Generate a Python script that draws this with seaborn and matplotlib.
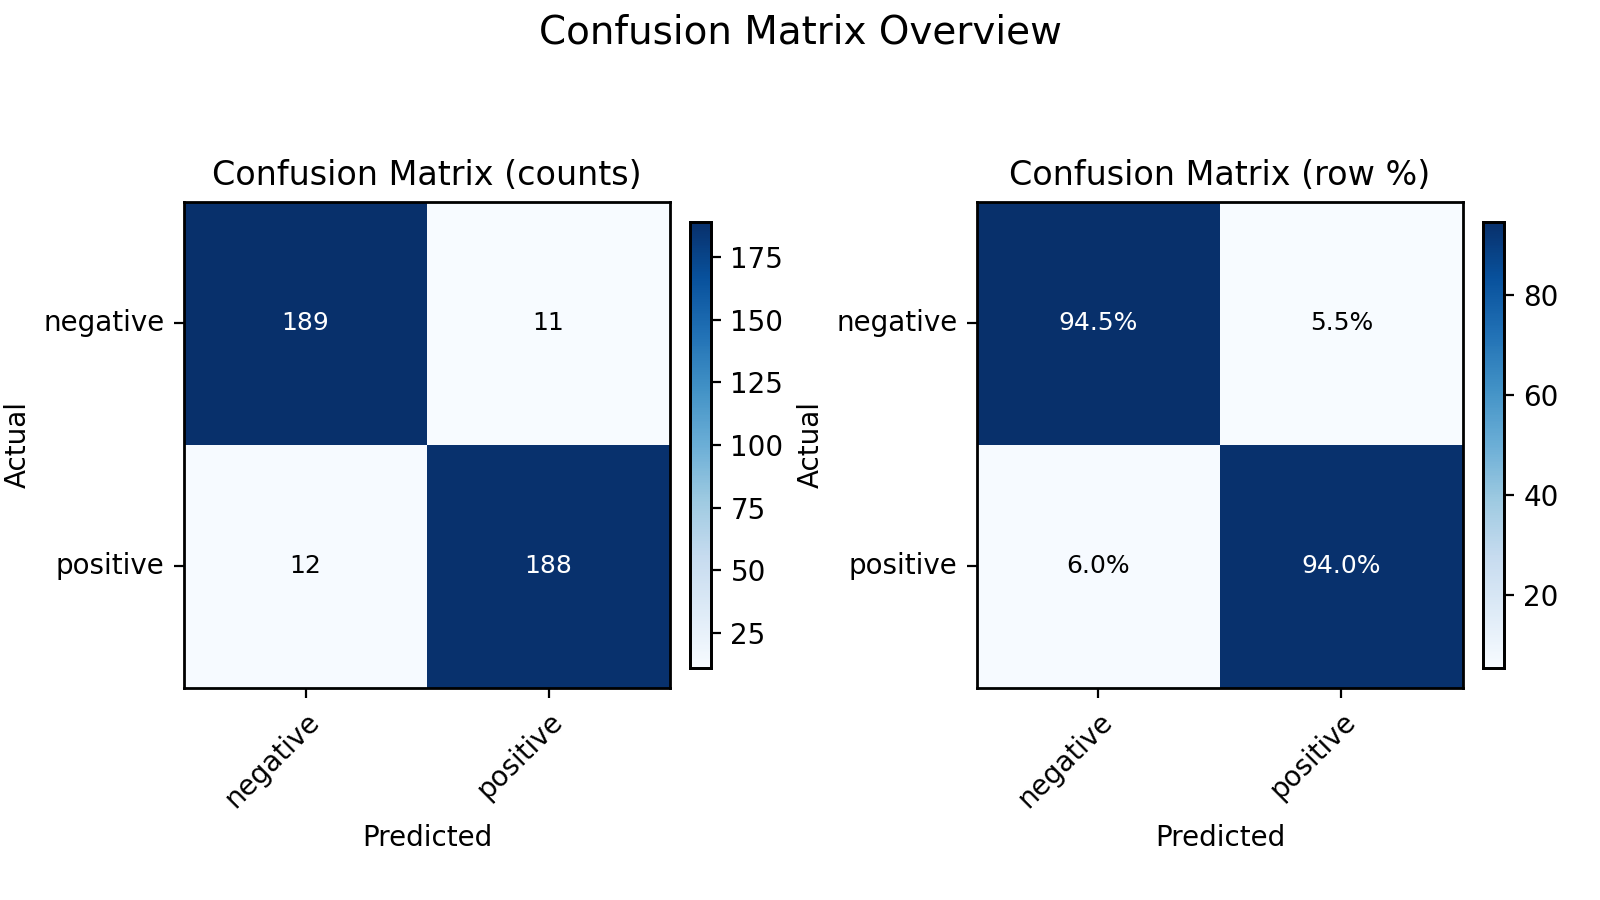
import numpy as np
import pandas as pd
import seaborn as sns
import matplotlib.pyplot as plt

labels = ['negative', 'positive']
counts = np.array([[189, 11],
                   [12, 188]])
row_pct = np.array([[94.5, 5.5],
                    [6.0, 94.0]])

df_counts = pd.DataFrame(counts, index=labels, columns=labels)
df_pct = pd.DataFrame(row_pct, index=labels, columns=labels)

plt.rcParams['font.family'] = ['DejaVu Sans']
plt.rcParams['text.color'] = 'black'
plt.rcParams['axes.labelcolor'] = 'black'

fig = plt.figure(figsize=(8, 4.5), dpi=200)
ax1 = fig.add_axes([0.115, 0.2356, 0.30375, 0.54])
cax1 = fig.add_axes([0.43125, 0.2578, 0.013125, 0.4956])
ax2 = fig.add_axes([0.6106, 0.2356, 0.30375, 0.54])
cax2 = fig.add_axes([0.926875, 0.2578, 0.013125, 0.4956])


def draw(ax, cax, df, fmt, title):
    sns.heatmap(df, ax=ax, cbar_ax=cax, cmap='Blues', annot=False)
    thresh = df.values.max() / 2
    for i in range(df.shape[0]):
        for j in range(df.shape[1]):
            v = df.values[i, j]
            ax.text(j + 0.5, i + 0.5, fmt(v), ha='center', va='center', fontsize=9,
                    color='white' if v > thresh else 'black')
    for s in ax.spines.values():
        s.set_visible(True)
        s.set_linewidth(1.0)
        s.set_color('black')
    ax.tick_params(axis='both', length=3.5, width=0.8, colors='black', labelsize=10,
                   bottom=True, left=True)
    ax.set_xticklabels(labels, rotation=45, ha='right', rotation_mode='anchor')
    ax.set_yticklabels(labels, rotation=0)
    ax.set_xlabel('Predicted', fontsize=10)
    ax.set_ylabel('Actual', fontsize=10)
    ax.set_title(title, fontsize=12)
    cax.tick_params(length=3.5, width=0.8, labelsize=10, colors='black', right=True)
    for s in cax.spines.values():
        s.set_visible(True)
        s.set_linewidth(1.0)
        s.set_color('black')


draw(ax1, cax1, df_counts, lambda v: f'{int(v)}', 'Confusion Matrix (counts)')
draw(ax2, cax2, df_pct, lambda v: f'{v:.1f}%', 'Confusion Matrix (row %)')

fig.suptitle('Confusion Matrix Overview', fontsize=14, y=0.985)
fig.savefig('out.png', dpi=200)
